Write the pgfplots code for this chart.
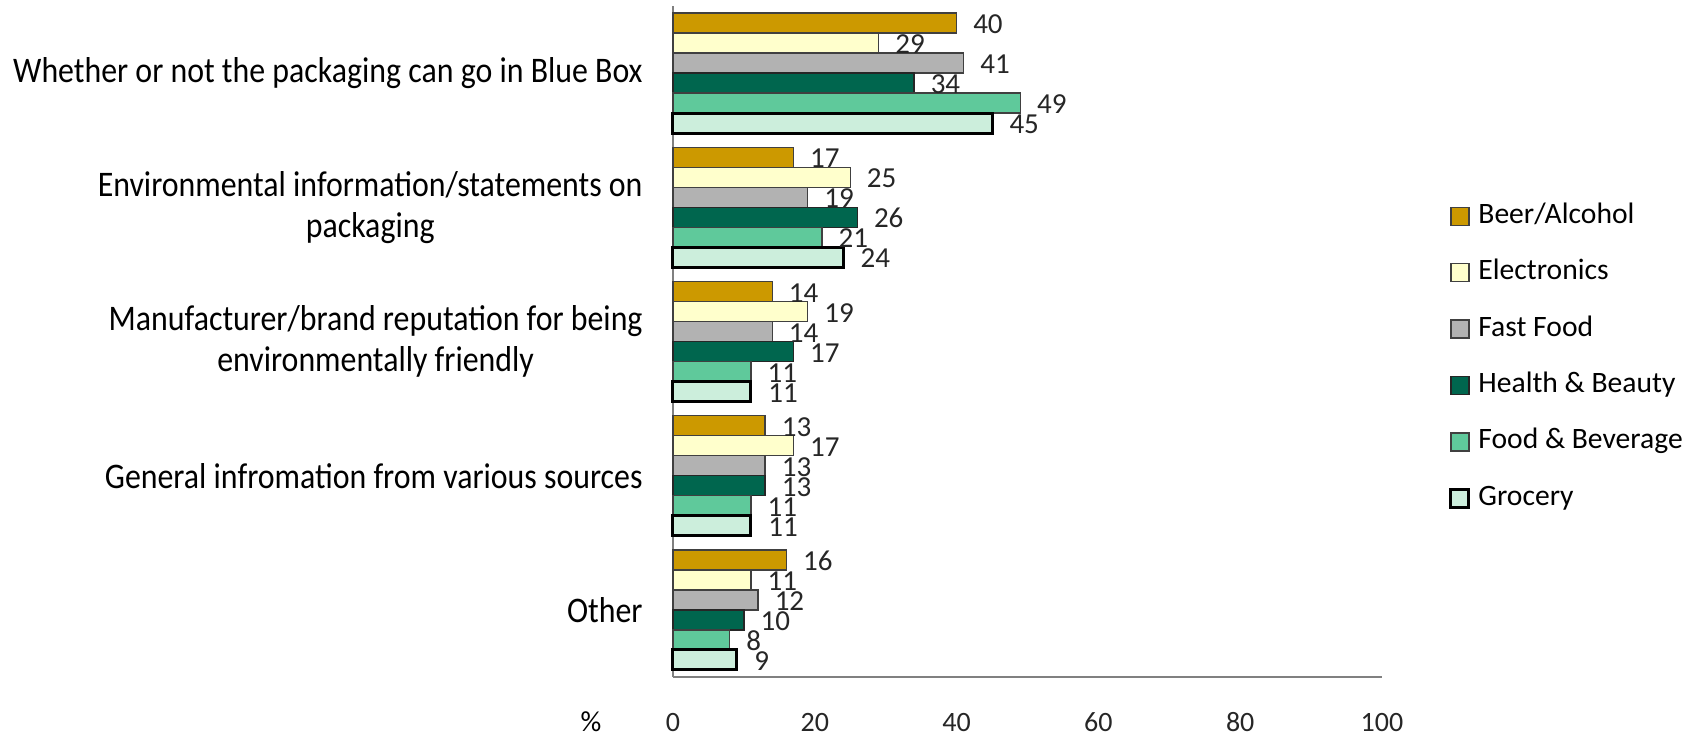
\documentclass[border=0pt]{standalone}
\usepackage{fontspec}
\setmainfont{Carlito}
\newfontfamily\catfont{Carlito}[FakeStretch=0.885]
\usepackage{pgfplots}
\usepackage{pgfplotstable}
\pgfplotsset{compat=1.18}

\definecolor{beer}{RGB}{204,153,0}
\definecolor{elec}{RGB}{255,255,204}
\definecolor{fast}{RGB}{178,178,178}
\definecolor{health}{RGB}{0,102,78}
\definecolor{foodbev}{RGB}{95,201,155}
\definecolor{grocery}{RGB}{204,238,220}

% cat: 4 = top category
\pgfplotstableread{
cat beer elec fast health food grocery
4   40   29   41   34     49   45
3   17   25   19   26     21   24
2   14   19   14   17     11   11
1   13   17   13   13     11   11
0   16   11   12   10     8    9
}\datatable

\begin{document}
\begin{tikzpicture}
\begin{axis}[
    name=ax,
    xbar,
    legend image code/.code={\draw[#1] (0pt,-4.5pt) rectangle (9pt,4.5pt);},
    scale only axis,
    width=354.5pt, height=335.5pt,
    xmin=0, xmax=100,
    ymin=-0.5, ymax=4.5,
    xtick={0,20,...,100},
    ytick={0,1,2,3,4},
    yticklabels={Other,
        General infromation from various sources,
        {Manufacturer/brand reputation for being\\environmentally friendly},
        {Environmental information/statements on\\packaging},
        Whether or not the packaging can go in Blue Box},
    axis x line*=bottom,
    axis y line*=left,
    axis line style={-, draw=black!50, line width=0.8pt},
    major tick length=0pt,
    tick style={draw=none},
    yticklabel style={align=center, anchor=east, inner sep=0pt, xshift=-15pt,
        font=\catfont\fontsize{18}{20.5}\selectfont, text=black},
    xticklabel style={anchor=center, inner sep=0pt, yshift=-23pt,
        text height=8.8pt, text depth=0pt,
        font=\fontsize{14}{16}\selectfont, text=black!85},
    /pgf/number format/assume math mode=true,
    bar width=10pt,
    clip=false,
    point meta=x,
    nodes near coords,
    nodes near coords style={anchor=west, inner sep=0pt, xshift=8pt, yshift=-0.8pt,
        text height=9pt, text depth=0pt,
        font=\fontsize{14.5}{16}\selectfont, text=black!85},
    legend cell align=left,
    legend style={at={(1.0945,0.708)}, anchor=north west, draw=none, fill=none,
        inner sep=0pt, row sep=14.2pt, column sep=4pt,
        font=\fontsize{14.8}{17}\selectfont,
        nodes={inner sep=0pt, text height=10.5pt, text depth=3.5pt}},
]
\addplot[bar shift=25pt, fill=beer, draw=black!75, line width=0.7pt]
    table[x=beer, y=cat] {\datatable};
\addplot[bar shift=15pt, fill=elec, draw=black!75, line width=0.7pt]
    table[x=elec, y=cat] {\datatable};
\addplot[bar shift=5pt, fill=fast, draw=black!75, line width=0.7pt]
    table[x=fast, y=cat] {\datatable};
\addplot[bar shift=-5pt, fill=health, draw=black!85, line width=0.7pt]
    table[x=health, y=cat] {\datatable};
\addplot[bar shift=-15pt, fill=foodbev, draw=black!75, line width=0.7pt]
    table[x=food, y=cat] {\datatable};
\addplot[bar shift=-25pt, fill=grocery, draw=black, line width=1.5pt]
    table[x=grocery, y=cat] {\datatable};
\legend{Beer/Alcohol, Electronics, Fast Food, Health \& Beauty, Food \& Beverage, Grocery}
\node[font=\fontsize{14.5}{16}\selectfont, inner sep=0pt, text height=8.8pt, text depth=0pt]
    at ([xshift=-41pt, yshift=-23pt]rel axis cs:0,0) {\%};
\end{axis}
\pgfresetboundingbox
\path (ax.south west) ++(-336.5pt,-29.5pt) rectangle ++(843pt,368pt);
\end{tikzpicture}
\end{document}
